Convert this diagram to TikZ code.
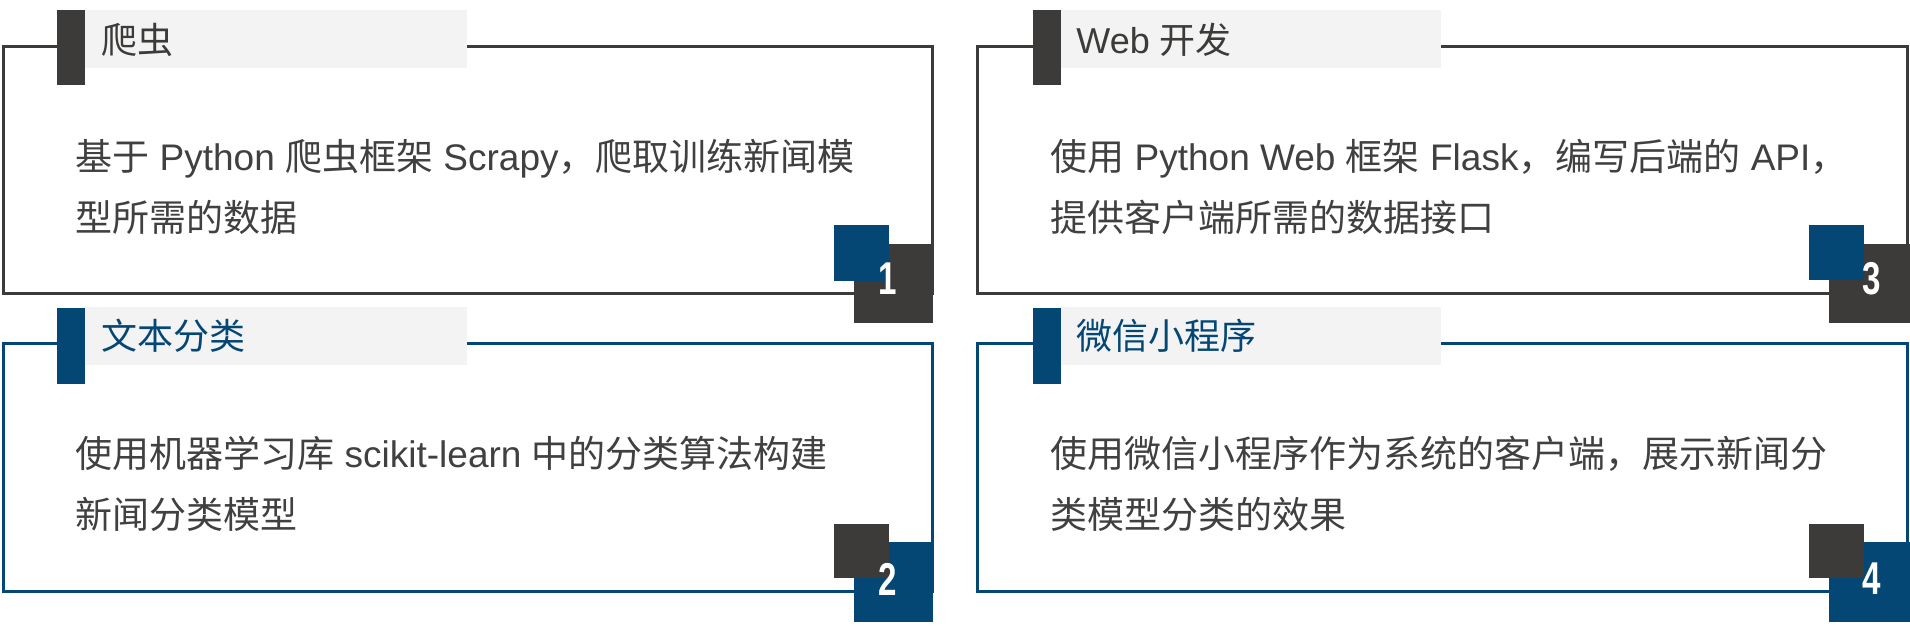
\documentclass[tikz,border=0pt]{standalone}
\usepackage{fontspec}
\setmainfont{Liberation Sans}
\newfontfamily\zhfont{Noto Sans CJK SC}
\newcommand\zh[1]{{\zhfont #1}}

\definecolor{inkdark}{RGB}{60,59,57}
\definecolor{inkblue}{RGB}{4,71,117}
\definecolor{bandgray}{RGB}{243,243,243}
\definecolor{bodytext}{RGB}{64,64,64}

\tikzset{
    panel/.style={line width=1.5pt},
    band/.style={fill=bandgray, draw=none},
    title/.style={anchor=base west, inner sep=0pt, font=\fontsize{18}{18}\selectfont},
    body/.style={anchor=base west, inner sep=0pt, text=bodytext, font=\fontsize{18.5}{18.5}\selectfont},
    badge/.style={text=white, inner sep=0pt, font=\fontsize{23}{23}\selectfont\bfseries}
}

\begin{document}
\begin{tikzpicture}[x=0.5pt,y=-0.5pt]
        \useasboundingbox (0,0) rectangle (1910,629);

        % crawler
        \draw[panel, draw=inkdark] (3,46) rectangle (932,293);
        \path[band] (85,10) rectangle (467,68);
        \fill[inkdark] (57,10) rectangle (85,85);
        \node[title, text=inkdark] (title1) at (101,53) {\zh{爬虫}};
        \node[body] (text1a) at (75,170) {\zh{基于} Python \zh{爬虫框架} Scrapy\zh{，爬取训练新闻模}};
        \node[body] (text1b) at (75,231) {\zh{型所需的数据}};
        \fill[inkdark] (854,244) rectangle (933,323);
        \fill[inkblue] (834,225) rectangle (889,281);
        \node[badge] (num1) at (888,279) {\scalebox{0.72}[1]{1}};

        % text classification
        \draw[panel, draw=inkblue] (3,343) rectangle (932,591);
        \path[band] (85,307) rectangle (467,365);
        \fill[inkblue] (57,308) rectangle (85,384);
        \node[title, text=inkblue] (title2) at (101,349) {\zh{文本分类}};
        \node[body] (text2a) at (75,467) {\zh{使用机器学习库} scikit-learn \zh{中的分类算法构建}};
        \node[body] (text2b) at (75,528) {\zh{新闻分类模型}};
        \fill[inkblue] (854,542) rectangle (933,622);
        \fill[inkdark] (834,524) rectangle (889,578);
        \node[badge] (num2) at (888,579) {\scalebox{0.72}[1]{2}};

        % web
        \draw[panel, draw=inkdark] (977,46) rectangle (1907,293);
        \path[band] (1061,10) rectangle (1441,68);
        \fill[inkdark] (1033,10) rectangle (1061,85);
        \node[title, text=inkdark] (title3) at (1076,53) {Web \zh{开发}};
        \node[body] (text3a) at (1050,170) {\zh{使用} Python Web \zh{框架} Flask\zh{，编写后端的} API\zh{，}};
        \node[body] (text3b) at (1050,231) {\zh{提供客户端所需的数据接口}};
        \fill[inkdark] (1829,244) rectangle (1910,323);
        \fill[inkblue] (1809,225) rectangle (1864,280);
        \node[badge] (num3) at (1872,279) {\scalebox{0.72}[1]{3}};

        % mini program
        \draw[panel, draw=inkblue] (977,343) rectangle (1907,591);
        \path[band] (1061,307) rectangle (1441,365);
        \fill[inkblue] (1033,308) rectangle (1061,384);
        \node[title, text=inkblue] (title4) at (1076,349) {\zh{微信小程序}};
        \node[body] (text4a) at (1050,467) {\zh{使用微信小程序作为系统的客户端，展示新闻分}};
        \node[body] (text4b) at (1050,528) {\zh{类模型分类的效果}};
        \fill[inkblue] (1829,542) rectangle (1910,622);
        \fill[inkdark] (1809,524) rectangle (1864,578);
        \node[badge] (num4) at (1872,579) {\scalebox{0.72}[1]{4}};

    \end{tikzpicture}
\end{document}
